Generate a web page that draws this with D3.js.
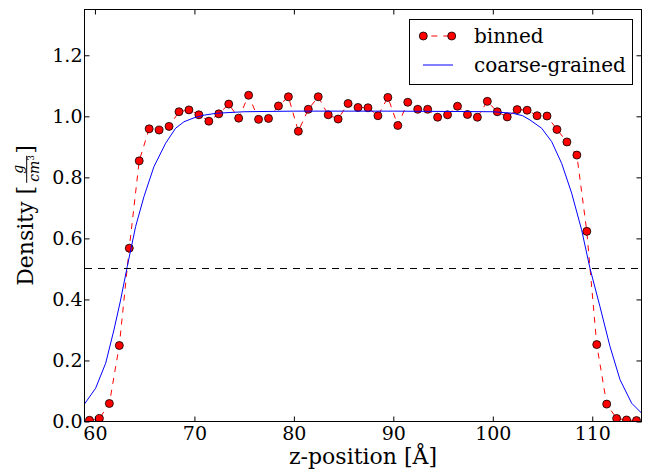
<!DOCTYPE html>
<html>
<head>
<meta charset="utf-8">
<script src="https://d3js.org/d3.v7.min.js"></script>
<style>
  body { margin: 0; background: #fff; }
  text { font-family: "DejaVu Serif", serif; fill: #000; }
</style>
</head>
<body>
<div id="chart"></div>
<script>
// binned density, bins of 1 Å starting at 59.45
var binZ = d3.range(56).map(function(i) { return 59.45 + i; });
var binDensity = [0.004, 0.010, 0.059, 0.249, 0.568, 0.854, 0.959, 0.955, 0.967, 1.015,
                  1.021, 1.005, 0.984, 1.008, 1.040, 0.994, 1.069, 0.990, 0.993, 1.034,
                  1.064, 0.951, 1.023, 1.064, 1.005, 0.991, 1.042, 1.029, 1.028, 1.002,
                  1.062, 0.970, 1.046, 1.023, 1.023, 0.997, 1.005, 1.033, 1.006, 0.997,
                  1.049, 1.015, 0.998, 1.022, 1.020, 1.002, 1.001, 0.957, 0.916, 0.873,
                  0.623, 0.252, 0.057, 0.010, 0.005, 0.003];

// coarse-grained profile
var cgZ = [58.9, 60.07, 61.08, 61.91, 62.58, 63.25, 64.09, 64.93, 65.93, 67.11, 68.11, 68.95, 69.95,
           71.0, 72.2, 75, 80, 85, 90, 95, 100, 102, 103, 103.74, 104.91, 105.92, 106.92, 107.93,
           108.93, 109.77, 110.77, 111.78, 112.79, 113.96, 114.97];
var cgDensity = [0.055, 0.109, 0.191, 0.300, 0.398, 0.508, 0.639, 0.737, 0.835, 0.912, 0.961, 0.982, 0.995,
                 1.004, 1.010, 1.015, 1.017, 1.017, 1.017, 1.016, 1.015, 1.010, 1.002, 0.988, 0.961, 0.917,
                 0.846, 0.748, 0.628, 0.502, 0.377, 0.246, 0.137, 0.060, 0.027];

var xTicks = [60, 70, 80, 90, 100, 110];
var yTicks = [0.0, 0.2, 0.4, 0.6, 0.8, 1.0, 1.2];
var threshold = 0.5;

var margin = {top: 9.5, left: 84.5},
    width = 557, height = 412;

var svg = d3.select("#chart").append("svg")
    .attr("width", 646).attr("height", 470);

var g = svg.append("g")
    .attr("transform", "translate(" + margin.left + "," + margin.top + ")");

var x = d3.scaleLinear().domain([58.95, 114.95]).range([0, width]);
var y = d3.scaleLinear().domain([0, 1.35]).range([height, 0]);

svg.append("defs").append("clipPath").attr("id", "clip")
  .append("rect").attr("width", width).attr("height", height);

var plot = g.append("g").attr("clip-path", "url(#clip)");

var binData = binZ.map(function(z, i) { return {z: z, d: binDensity[i]}; });
var cgData = cgZ.map(function(z, i) { return {z: z, d: cgDensity[i]}; });

var line = d3.line()
    .x(function(d) { return x(d.z); })
    .y(function(d) { return y(d.d); });

plot.append("path")
    .datum(binData)
    .attr("d", line)
    .attr("fill", "none")
    .attr("stroke", "#ff0000")
    .attr("stroke-width", 1)
    .attr("stroke-dasharray", "6,6");

plot.selectAll(".pt")
    .data(binData)
  .enter().append("circle")
    .attr("class", "pt")
    .attr("cx", function(d) { return x(d.z); })
    .attr("cy", function(d) { return y(d.d); })
    .attr("r", 4)
    .attr("fill", "#ff0000")
    .attr("stroke", "#000")
    .attr("stroke-width", 0.8);

plot.append("path")
    .datum(cgData)
    .attr("d", line)
    .attr("fill", "none")
    .attr("stroke", "#0000ff")
    .attr("stroke-width", 1);

plot.append("line")
    .attr("x1", 0).attr("x2", width)
    .attr("y1", y(threshold)).attr("y2", y(threshold))
    .attr("stroke", "#000")
    .attr("stroke-width", 1)
    .attr("shape-rendering", "crispEdges")
    .attr("stroke-dasharray", "7,6");

// axes, ticks pointing inward
var xAxis = g.append("g")
    .attr("transform", "translate(0," + height + ")")
    .call(d3.axisBottom(x).tickValues(xTicks).tickSize(-5).tickPadding(4.5).tickFormat(d3.format("d")));
var xTop = g.append("g")
    .call(d3.axisTop(x).tickValues(xTicks).tickSize(-5).tickFormat(""));
var yAxis = g.append("g")
    .call(d3.axisLeft(y).tickValues(yTicks).tickSize(-5).tickPadding(2).tickFormat(d3.format(".1f")));
var yRight = g.append("g")
    .attr("transform", "translate(" + width + ",0)")
    .call(d3.axisRight(y).tickValues(yTicks).tickSize(-5).tickFormat(""));

[xAxis, xTop, yAxis, yRight].forEach(function(a) {
  a.select(".domain").remove();
  a.selectAll("line").attr("stroke", "#000");
  a.selectAll("text").attr("font-family", "DejaVu Serif").attr("font-size", "19px").attr("fill", "#000");
});

g.append("rect")
    .attr("width", width).attr("height", height)
    .attr("fill", "none").attr("stroke", "#000").attr("stroke-width", 1);

// x label
g.append("text")
    .attr("x", width / 2)
    .attr("y", height + 42)
    .attr("text-anchor", "middle")
    .attr("font-size", "22px")
    .text("z-position [Å]");

// y label with fraction g / cm^3
var yl = svg.append("g")
    .attr("transform", "translate(33," + (margin.top + height / 2) + ") rotate(-90)");
var t1 = yl.append("text").attr("font-size", "22px").text("Density [");
var w1 = t1.node().getComputedTextLength();
var fx = w1 + 3, fw = 27;
yl.append("line")
    .attr("x1", fx).attr("x2", fx + fw)
    .attr("y1", -6.3).attr("y2", -6.3)
    .attr("stroke", "#000").attr("stroke-width", 1);
yl.append("text")
    .attr("x", fx + fw / 2).attr("y", -10.5)
    .attr("text-anchor", "middle")
    .attr("font-size", "14px").attr("font-style", "italic")
    .text("g");
var den = yl.append("text")
    .attr("x", fx + 1).attr("y", 6)
    .attr("font-size", "14px").attr("font-style", "italic");
den.append("tspan").text("cm");
den.append("tspan").attr("dy", -5).attr("font-size", "9px").attr("font-style", "normal").text("3");
var t3 = yl.append("text")
    .attr("x", fx + fw + 2)
    .attr("font-size", "22px").text("]");
var total = fx + fw + 2 + t3.node().getComputedTextLength();
yl.selectAll("*").attr("transform", "translate(" + (-total / 2) + ",0)");

// legend
var lg = svg.append("g");
lg.append("rect")
    .attr("x", 409.5).attr("y", 19.5).attr("width", 223).attr("height", 65)
    .attr("fill", "#fff").attr("stroke", "#000").attr("stroke-width", 1);
lg.append("line")
    .attr("x1", 423.3).attr("x2", 451.7).attr("y1", 36).attr("y2", 36)
    .attr("stroke", "#ff0000").attr("stroke-dasharray", "6,6").attr("stroke-dashoffset", -8);
[423.3, 451.7].forEach(function(cx) {
  lg.append("circle").attr("cx", cx).attr("cy", 36).attr("r", 4)
    .attr("fill", "#ff0000").attr("stroke", "#000").attr("stroke-width", 0.8);
});
lg.append("text").attr("x", 474).attr("y", 42.5).attr("font-size", "20px").text("binned");
lg.append("line")
    .attr("x1", 423).attr("x2", 453).attr("y1", 65).attr("y2", 65)
    .attr("stroke", "#0000ff").attr("stroke-width", 1);
lg.append("text").attr("x", 474).attr("y", 71.5).attr("font-size", "20px").text("coarse-grained");
</script>
</body>
</html>
